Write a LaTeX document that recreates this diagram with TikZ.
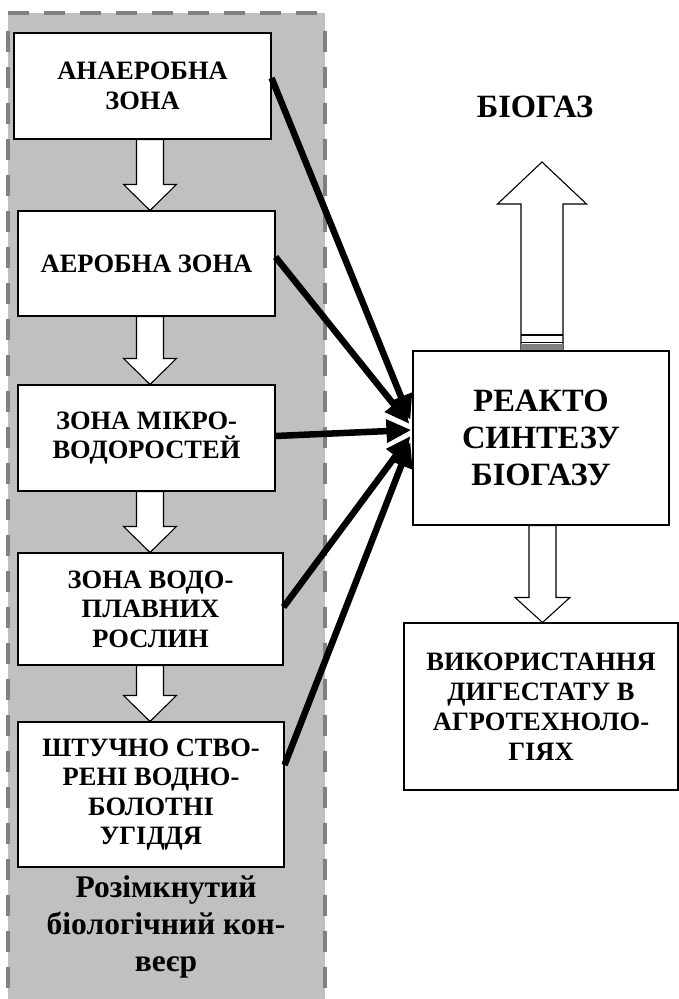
\documentclass[tikz,border=0pt]{standalone}
\usepackage{fontspec}
\setmainfont{Liberation Serif}
\usetikzlibrary{arrows.meta,calc}
\definecolor{fillg}{RGB}{192,192,192}
\definecolor{dashg}{RGB}{128,128,128}
\newcommand\hdown[3]{%
  \draw[hollow] let \p1=(#1.south), \p2=(#2.north), \p3=(#3) in
   (\x3-13.5pt,\y1) -- (\x3-13.5pt,\y2+26pt) -- (\x3-26.5pt,\y2+26pt) -- (\x3,\y2)
   -- (\x3+26.5pt,\y2+26pt) -- (\x3+13.5pt,\y2+26pt) -- (\x3+13.5pt,\y1) -- cycle;}
\begin{document}
\begin{tikzpicture}[x=1pt,y=-1pt,
  box/.style={draw=black,line width=1.1pt,fill=white,align=center,
    font=\bfseries\fontsize{26.5}{29.5}\selectfont,inner sep=0pt},
  hollow/.style={draw=black,line width=1.1pt,fill=white,line join=miter},
  feed/.style={line width=6.5pt,-{Triangle[length=25pt,width=22pt]}},
  zoneborder/.style={dashg,line width=4pt,dash pattern=on 21pt off 15pt}]
\useasboundingbox (0,0) rectangle (679,999);
% grey zone
\fill[fillg] (8,13) rectangle (325,999);
\draw[zoneborder] (8,13) -- (325,13);
\draw[zoneborder] (8,31) -- (8,999);
\draw[zoneborder] (325,31) -- (325,999);
% axis for left arrows
\coordinate (ax) at (150,0);
% boxes
\node[box,minimum width=257pt,minimum height=106pt] (b1) at (142.5,86) {АНАЕРОБНА\\ЗОНА};
\node[box,minimum width=257pt,minimum height=105pt] (b2) at (146.5,263.5) {АЕРОБНА ЗОНА};
\node[box,minimum width=257pt,minimum height=106pt] (b3) at (146.5,438) {ЗОНА МІКРО-\\ВОДОРОСТЕЙ};
\node[box,minimum width=265pt,minimum height=112pt] (b4) at (150.5,609) {ЗОНА ВОДО-\\ПЛАВНИХ\\РОСЛИН};
\node[box,minimum width=266pt,minimum height=145pt] (b5) at (151,794.5) {ШТУЧНО СТВО-\\РЕНІ ВОДНО-\\БОЛОТНІ\\УГІДДЯ};
\node[align=center,font=\bfseries\fontsize{31.5}{37}\selectfont] (cap) at (166,927) {Розімкнутий\\біологічний кон-\\веєр};
% hollow arrows
\hdown{b1}{b2}{ax}
\hdown{b2}{b3}{ax}
\hdown{b3}{b4}{ax}
\hdown{b4}{b5}{ax}
% right side
\node[box,font=\bfseries\fontsize{32.5}{37}\selectfont,minimum width=256pt,minimum height=174pt] (r) at (541,438) {РЕАКТО\\СИНТЕЗУ\\БІОГАЗУ};
\node[box,minimum width=274pt,minimum height=167pt,font=\bfseries\fontsize{26.5}{30}\selectfont] (dg) at (541,706.5) {ВИКОРИСТАННЯ\\ДИГЕСТАТУ В\\АГРОТЕХНОЛО-\\ГІЯХ};
\node[font=\bfseries\fontsize{32.5}{37}\selectfont] (gas) at (535,107) {БІОГАЗ};
\coordinate (gastip) at (542,162);
\draw[hollow] let \p1=(r.north), \p2=(gastip) in
  (\x2-21pt,\y1) -- (\x2-21pt,\y2-42pt) -- (\x2-44.5pt,\y2-42pt) -- (\x2,\y2)
  -- (\x2+44.5pt,\y2-42pt) -- (\x2+21pt,\y2-42pt) -- (\x2+21pt,\y1) -- cycle;
\draw[line width=1.5pt] (521,335) -- (563,335);
\draw[line width=1.2pt] (521,342.5) -- (563,342.5);
\fill[gray] (521,344) rectangle (563,349.5);
\draw[hollow] let \p1=(r.south), \p2=(dg.north) in
  (542.5pt-13.5pt,\y1) -- (542.5pt-13.5pt,\y2+25pt) -- (542.5pt-27.5pt,\y2+25pt) -- (542.5pt,\y2)
  -- (542.5pt+27.5pt,\y2+25pt) -- (542.5pt+13.5pt,\y2+25pt) -- (542.5pt+13.5pt,\y1) -- cycle;
% feed arrows
\draw[feed] ([yshift=8pt]b1.east) -- ([xshift=-2pt,yshift=18pt]r.west);
\draw[feed] ([yshift=6.5pt]b2.east) -- ([xshift=-3pt,yshift=14pt]r.west);
\draw[feed] ([yshift=2pt]b3.east) -- ([xshift=-1pt,yshift=8pt]r.west);
\draw[feed] ([yshift=2pt]b4.east) -- ([xshift=-2pt,yshift=2pt]r.west);
\draw[feed] ([yshift=29.5pt]b5.east) -- ([xshift=-2pt,yshift=-4pt]r.west);
\end{tikzpicture}
\end{document}
